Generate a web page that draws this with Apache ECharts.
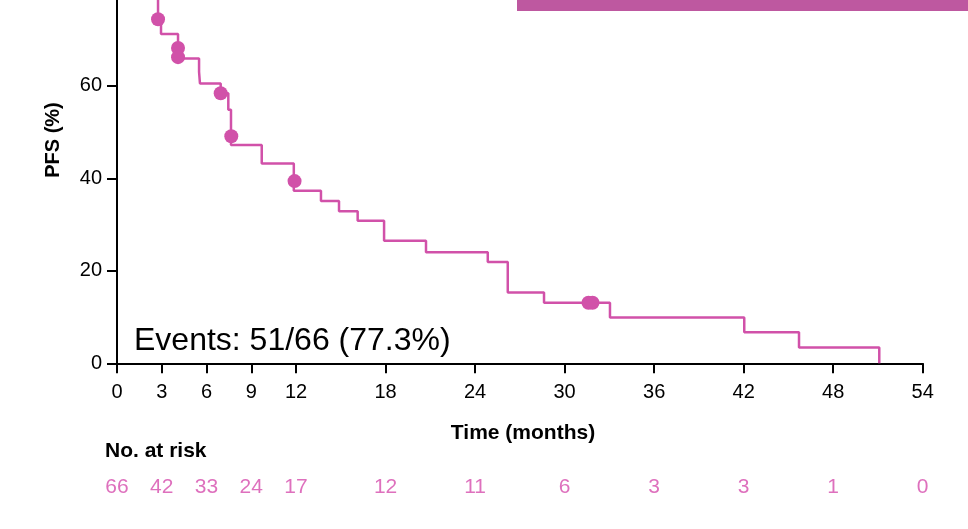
<!DOCTYPE html>
<html><head><meta charset="utf-8">
<script src="https://cdn.jsdelivr.net/npm/echarts@6/dist/echarts.min.js"></script>
<style>html,body{margin:0;padding:0;background:#fff}#c{width:968px;height:529px}</style>
</head><body><div id="c"></div>
<script>
// Kaplan-Meier step points (time in months, PFS %)
const kmTimes = [0, 1.0, 1.6, 2.2, 2.6, 2.75, 2.95, 4.09, 5.50, 5.56, 6.95, 7.46, 7.64, 9.70, 11.85, 13.67, 14.88, 16.13, 17.90, 20.71, 24.85, 26.19, 28.62, 33.04, 42.04, 45.71, 51.09];
const kmSurv  = [100, 97.0, 93.9, 89.4, 84.8, 74.4, 71.2, 65.9, 63.0, 60.5, 58.4, 54.8, 47.2, 43.2, 37.3, 35.1, 32.9, 30.8, 26.5, 24.0, 21.9, 15.3, 13.1, 9.9, 6.7, 3.4, 0];
// Censor marks
const censorTimes = [2.75, 4.09, 4.09, 6.95, 7.66, 11.9, 31.6, 31.87];
const censorSurv  = [74.4, 68.2, 66.2, 58.4, 49.1, 39.4, 13.1, 13.1];
// Axis ticks
const xTicks = [0, 3, 6, 9, 12, 18, 24, 30, 36, 42, 48, 54];
const yTicks = [0, 20, 40, 60, 80, 100];
// Number at risk
const riskTimes  = [0, 3, 6, 9, 12, 18, 24, 30, 36, 42, 48, 54];
const riskCounts = [66, 42, 33, 24, 17, 12, 11, 6, 3, 3, 1, 0];

const FONT = 'Liberation Sans, Arial, Helvetica, sans-serif';
const LINE = '#D151A9';
const RISK = '#D64CAD';

const chart = echarts.init(document.getElementById('c'), null, {renderer: 'canvas'});
chart.setOption({
  animation: false,
  backgroundColor: '#fff',
  grid: [
    {left: 117, right: 45.3, top: -99.2, bottom: 165.7, outerBoundsMode: 'none', containLabel: false},
    {left: 117, right: 45.3, top: 472, height: 31, outerBoundsMode: 'none', containLabel: false}
  ],
  xAxis: [{
    gridIndex: 0, type: 'value', min: 0, max: 54, interval: 3,
    axisLine: {lineStyle: {color: '#000', width: 2}},
    axisTick: {show: true, length: 10, lineStyle: {color: '#000', width: 2}, customValues: xTicks},
    axisLabel: {color: '#000', fontSize: 20, fontFamily: FONT, margin: 19, customValues: xTicks},
    splitLine: {show: false}
  }, {
    gridIndex: 1, type: 'value', min: 0, max: 54, show: false
  }],
  yAxis: [{
    gridIndex: 0, type: 'value', min: 0, max: 100, interval: 20,
    axisLine: {show: true, lineStyle: {color: '#000', width: 2}},
    axisTick: {show: true, length: 10, lineStyle: {color: '#000', width: 2}, customValues: yTicks},
    axisLabel: {color: '#000', fontSize: 20, fontFamily: FONT, margin: 15, customValues: yTicks},
    splitLine: {show: false}
  }, {
    gridIndex: 1, type: 'value', min: 0, max: 1, show: false
  }],
  series: [{
    type: 'line', xAxisIndex: 0, yAxisIndex: 0, step: 'end', symbol: 'none',
    lineStyle: {color: LINE, width: 2.5}, clip: true,
    data: kmTimes.map((t, i) => [t, kmSurv[i]]), z: 2
  }, {
    type: 'scatter', xAxisIndex: 0, yAxisIndex: 0, symbolSize: 14,
    itemStyle: {color: LINE, opacity: 1},
    data: censorTimes.map((t, i) => [t, censorSurv[i]]), z: 3
  }, {
    type: 'scatter', xAxisIndex: 1, yAxisIndex: 1, symbolSize: 0,
    label: {show: true, position: 'inside', color: RISK, fontSize: 21, fontFamily: FONT,
      formatter: p => String(riskCounts[p.dataIndex])},
    data: riskTimes.map(t => [t, 0.5])
  }],
  graphic: [
    {type: 'rect', shape: {x: 517, y: -5, width: 460, height: 16}, style: {fill: '#BE58A0'}},
    {type: 'text', x: 134, y: 341, style: {text: 'Events: 51/66 (77.3%)', font: '32px ' + FONT, fill: '#000', textVerticalAlign: 'middle'}},
    {type: 'text', x: 53, y: 140, rotation: Math.PI / 2, style: {text: 'PFS (%)', font: 'bold 20px ' + FONT, fill: '#000', textAlign: 'center', textVerticalAlign: 'middle'}},
    {type: 'text', x: 523, y: 433, style: {text: 'Time (months)', font: 'bold 21px ' + FONT, fill: '#000', textAlign: 'center', textVerticalAlign: 'middle'}},
    {type: 'text', x: 105, y: 451, style: {text: 'No. at risk', font: 'bold 21px ' + FONT, fill: '#000', textVerticalAlign: 'middle'}}
  ]
});
</script></body></html>
